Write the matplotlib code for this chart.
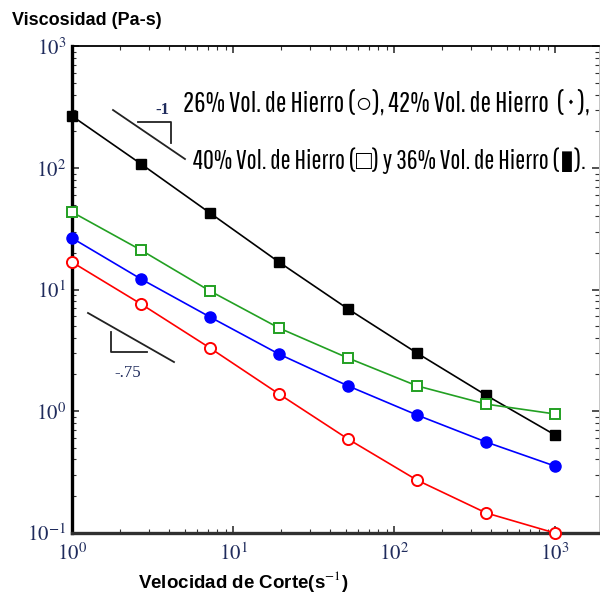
import matplotlib
matplotlib.use('Agg')
import matplotlib.pyplot as plt
from matplotlib import font_manager
from matplotlib.ticker import LogLocator, NullFormatter, FixedLocator, FixedFormatter

# shear rate (1/s) and viscosity (Pa-s)
shear_rate = [1, 2.683, 7.197, 19.31, 51.79, 138.9, 372.8, 1000]
visc_26 = [16.8, 7.6, 3.30, 1.38, 0.588, 0.27, 0.145, 0.099]
visc_42 = [26.5, 12.2, 5.94, 2.94, 1.61, 0.927, 0.556, 0.352]
visc_40 = [43.4, 21.1, 9.72, 4.82, 2.73, 1.61, 1.14, 0.945]
visc_36 = [268, 108, 42.6, 16.8, 6.92, 3.0, 1.35, 0.635]

x_ticks = [1, 10, 100, 1000]
x_labels = ['$10^{0}$', '$10^{1}$', '$10^{2}$', '$10^{3}$']
y_ticks = [0.1, 1, 10, 100, 1000]
y_labels = ['$10^{-1}$', '$10^{0}$', '$10^{1}$', '$10^{2}$', '$10^{3}$']

note_1 = '26% Vol. de Hierro (○), 42% Vol. de Hierro  ( • ),'
note_2 = '40% Vol. de Hierro (□) y 36% Vol. de Hierro (▮).'

plt.rcParams['mathtext.fontset'] = 'stix'

# narrowest available grotesque for the two-line note
names = {f.name for f in font_manager.fontManager.ttflist}
note_fam = 'Liberation Sans'
for fam in ['Pathway Gothic One', 'Fira Sans Extra Condensed', 'Archivo Narrow',
            'Roboto Condensed']:
    if fam in names:
        note_fam = fam
        break
note_font = [note_fam, 'Liberation Sans', 'DejaVu Sans']

navy = '#1f2b5c'

fig = plt.figure(figsize=(6, 5.93), dpi=100)
ax = fig.add_axes([0.12, 0.102, 0.878, 0.8196])

ax.plot(shear_rate, visc_36, color='black', lw=1.2, marker='s', ms=7.5,
        mfc='black', mec='black', clip_on=False, zorder=3)
ax.plot(shear_rate, visc_40, color='#22a022', lw=1.2, marker='s', ms=7,
        mfc='white', mec='#22a022', mew=1.4, clip_on=False, zorder=3)
ax.plot(shear_rate, visc_42, color='blue', lw=1.2, marker='o', ms=8,
        mfc='blue', mec='blue', clip_on=False, zorder=3)
ax.plot(shear_rate, visc_26, color='red', lw=1.2, marker='o', ms=8,
        mfc='white', mec='red', mew=1.4, clip_on=False, zorder=3)

ax.set_xscale('log')
ax.set_yscale('log')
ax.set_xlim(1, 1870)
ax.set_ylim(0.1, 1000)

ax.xaxis.set_major_locator(FixedLocator(x_ticks))
ax.xaxis.set_major_formatter(FixedFormatter(x_labels))
ax.yaxis.set_major_locator(FixedLocator(y_ticks))
ax.yaxis.set_major_formatter(FixedFormatter(y_labels))
ax.xaxis.set_minor_locator(LogLocator(base=10, subs=range(2, 10)))
ax.yaxis.set_minor_locator(LogLocator(base=10, subs=range(2, 10)))
ax.xaxis.set_minor_formatter(NullFormatter())
ax.yaxis.set_minor_formatter(NullFormatter())

ax.tick_params(which='both', direction='in', top=True, right=True, colors='#333333')
ax.tick_params(which='major', length=5, width=1.2, labelsize=15, labelcolor=navy)
ax.tick_params(which='minor', length=3, width=0.8)
ax.tick_params(axis='x', pad=7)
ax.tick_params(axis='y', pad=4)

ax.spines['left'].set_linewidth(2.4)
ax.spines['bottom'].set_linewidth(2.4)
ax.spines['bottom'].set_color('#303030')
ax.spines['top'].set_linewidth(1.3)
ax.spines['right'].set_linewidth(0.6)
ax.spines['right'].set_color('#bbbbbb')

ax.set_xlabel('Velocidad de Corte(s$^{-1}$)', fontsize=13.5, fontweight='bold',
              family='Liberation Sans')
ax.xaxis.set_label_coords(0.325, -0.075)
fig.text(0.02, 0.965, 'Viscosidad (Pa-s)', fontsize=13, fontweight='bold',
         family='Liberation Sans', va='center', ha='left')

# slope guides
ax.plot([1.798, 5.03], [300, 118.6], color='#222222', lw=1.3)
ax.plot([2.57, 4.12, 4.12], [239, 239, 160.6], color='#222222', lw=1.3)
ax.text(3.62, 300, '-1', fontsize=12, color=navy, family='Liberation Serif',
        ha='center', va='center', fontweight='bold')
ax.plot([1.257, 4.30], [6.41, 2.53], color='#222222', lw=1.3)
ax.plot([1.747, 1.747, 2.92], [4.47, 3.06, 3.06], color='#222222', lw=1.3)
ax.text(2.23, 2.05, '-.75', fontsize=12, color=navy, family='Liberation Serif',
        ha='center', va='center')

t1 = fig.text(183 / 600, 1 - 103 / 593, note_1, fontsize=20, family=note_font,
              ha='left', va='center')
t2 = fig.text(193 / 600, 1 - 161 / 593, note_2, fontsize=20, family=note_font,
              ha='left', va='center')
# fit each line of the note to the width it takes in the original
fig.canvas.draw()
t1.set_fontsize(20 * 408 / t1.get_window_extent().width)
t2.set_fontsize(20 * 392 / t2.get_window_extent().width)

fig.savefig('out.png', dpi=100)
